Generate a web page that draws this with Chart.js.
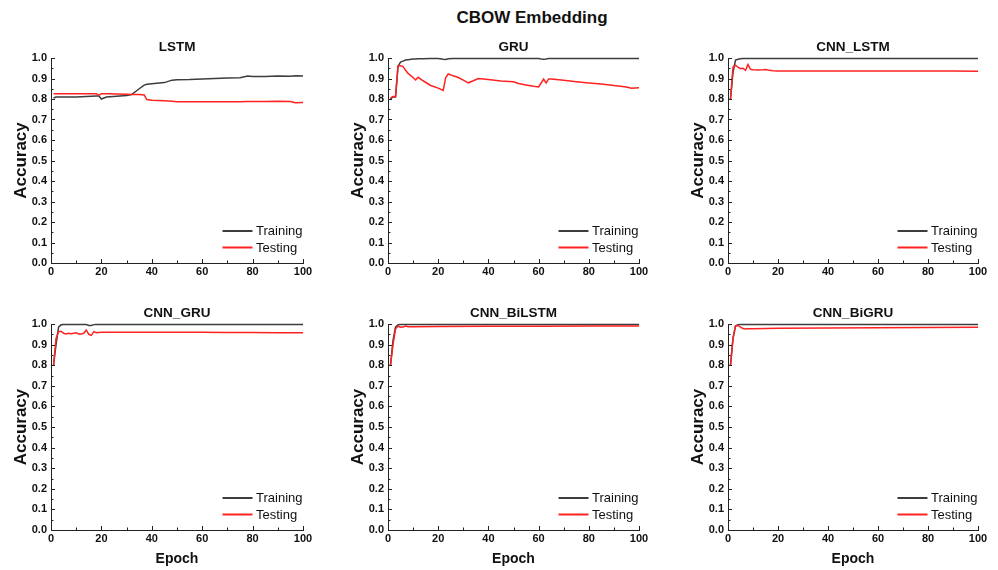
<!DOCTYPE html>
<html>
<head>
<meta charset="utf-8">
<title>CBOW Embedding</title>
<script src="https://cdn.jsdelivr.net/npm/chart.js@4.4.1/dist/chart.umd.min.js"></script>
<style>
    body { margin: 0; background: #fff; width: 998px; height: 570px; position: relative; overflow: hidden; font-family: "Liberation Sans", Arial, sans-serif; }
    #mainTitle { position: absolute; top: 8px; left: 432px; width: 200px; text-align: center; font-weight: bold; font-size: 17px; color: #111; white-space: nowrap; }
</style>
</head>
<body>
<div id="mainTitle">CBOW Embedding</div>

<script>
// values (epoch -> accuracy)
const lstmEpochs = [1, 2, 10, 18, 19, 20, 22, 30, 32, 35, 37, 38, 40, 45, 48, 50, 55, 60, 65, 70, 75, 78, 80, 85, 90, 95, 97, 100];
const lstmTrain  = [0.805, 0.81, 0.81, 0.815, 0.815, 0.80, 0.81, 0.817, 0.822, 0.85, 0.868, 0.872, 0.874, 0.88, 0.892, 0.894, 0.895, 0.898, 0.90, 0.902, 0.904, 0.912, 0.91, 0.91, 0.912, 0.911, 0.913, 0.912];
const lstmTest   = [0.826, 0.826, 0.826, 0.826, 0.818, 0.826, 0.826, 0.823, 0.822, 0.822, 0.82, 0.797, 0.794, 0.792, 0.789, 0.787, 0.786, 0.786, 0.787, 0.786, 0.787, 0.788, 0.788, 0.788, 0.789, 0.788, 0.782, 0.783];

const gruEpochs = [1, 2, 3, 4, 5, 6, 7, 8, 10, 11, 12, 14, 17, 20, 22, 23, 24, 26, 28, 30, 32, 34, 36, 40, 45, 50, 52, 55, 58, 60, 61, 62, 63, 64, 65, 70, 75, 80, 85, 90, 95, 97, 100];
const gruTrain  = [0.80, 0.81, 0.81, 0.96, 0.98, 0.985, 0.99, 0.992, 0.995, 0.995, 0.996, 0.996, 0.997, 0.997, 0.994, 0.993, 0.996, 0.997, 0.997, 0.997, 0.997, 0.997, 0.997, 0.997, 0.997, 0.997, 0.997, 0.997, 0.997, 0.997, 0.995, 0.994, 0.995, 0.997, 0.997, 0.997, 0.997, 0.997, 0.997, 0.997, 0.997, 0.997, 0.997];
const gruTest   = [0.805, 0.812, 0.812, 0.962, 0.962, 0.958, 0.94, 0.925, 0.905, 0.893, 0.906, 0.889, 0.866, 0.853, 0.842, 0.905, 0.922, 0.913, 0.905, 0.892, 0.879, 0.889, 0.90, 0.895, 0.888, 0.884, 0.876, 0.868, 0.862, 0.859, 0.878, 0.897, 0.879, 0.898, 0.897, 0.891, 0.884, 0.878, 0.873, 0.866, 0.858, 0.853, 0.855];

const cnnLstmEpochs = [1, 2, 3, 4, 5, 6, 7, 8, 9, 10, 12, 14, 15, 16, 18, 20, 30, 40, 50, 60, 70, 80, 90, 100];
const cnnLstmTrain  = [0.80, 0.93, 0.99, 0.994, 0.996, 0.997, 0.998, 0.998, 0.998, 0.998, 0.998, 0.998, 0.998, 0.998, 0.998, 0.998, 0.998, 0.998, 0.998, 0.998, 0.998, 0.998, 0.998, 0.998];
const cnnLstmTest   = [0.80, 0.955, 0.965, 0.955, 0.948, 0.95, 0.94, 0.968, 0.945, 0.943, 0.942, 0.943, 0.944, 0.941, 0.938, 0.937, 0.936, 0.936, 0.937, 0.937, 0.937, 0.936, 0.936, 0.935];

const cnnGruEpochs = [1, 2, 3, 4, 5, 6, 7, 8, 9, 10, 11, 12, 13, 14, 15, 16, 17, 18, 20, 30, 40, 50, 60, 70, 80, 90, 100];
const cnnGruTrain  = [0.80, 0.90, 0.985, 0.996, 0.997, 0.997, 0.997, 0.997, 0.997, 0.997, 0.997, 0.997, 0.997, 0.997, 0.993, 0.993, 0.997, 0.998, 0.998, 0.998, 0.998, 0.998, 0.998, 0.998, 0.998, 0.998, 0.998];
const cnnGruTest   = [0.80, 0.93, 0.963, 0.965, 0.955, 0.952, 0.955, 0.953, 0.955, 0.957, 0.952, 0.952, 0.955, 0.971, 0.95, 0.945, 0.963, 0.958, 0.96, 0.96, 0.96, 0.96, 0.96, 0.959, 0.959, 0.958, 0.958];

const cnnBiLstmEpochs = [1, 2, 3, 4, 5, 6, 7, 8, 10, 20, 40, 60, 80, 100];
const cnnBiLstmTrain  = [0.80, 0.92, 0.985, 0.997, 0.998, 0.998, 0.998, 0.998, 0.998, 0.998, 0.998, 0.998, 0.998, 0.998];
const cnnBiLstmTest   = [0.80, 0.90, 0.975, 0.99, 0.984, 0.985, 0.99, 0.987, 0.987, 0.988, 0.989, 0.989, 0.99, 0.99];

const cnnBiGruEpochs = [1, 2, 3, 4, 5, 6, 7, 8, 10, 20, 40, 60, 80, 100];
const cnnBiGruTrain  = [0.80, 0.93, 0.99, 0.997, 0.998, 0.998, 0.998, 0.998, 0.998, 0.998, 0.998, 0.998, 0.998, 0.998];
const cnnBiGruTest   = [0.80, 0.93, 0.99, 0.993, 0.985, 0.978, 0.976, 0.977, 0.977, 0.979, 0.981, 0.982, 0.983, 0.984];

const seriesNames = ['Training', 'Testing'];

const trainColour = '#3d3d3d';
const testColour = '#ff2222';
const axisColour = '#222222';
const textColour = '#111111';

Chart.defaults.font.family = '"Liberation Sans", Arial, sans-serif';

// plot rectangles in page pixels
const panels = [
    { title: 'LSTM',       L: 51,  T: 58,  R: 303, B: 263, padR: 20, epoch: false, epochs: lstmEpochs,      train: lstmTrain,      test: lstmTest },
    { title: 'GRU',        L: 388, T: 58,  R: 639, B: 263, padR: 20, epoch: false, epochs: gruEpochs,       train: gruTrain,       test: gruTest },
    { title: 'CNN_LSTM',   L: 728, T: 58,  R: 978, B: 263, padR: 19, epoch: false, epochs: cnnLstmEpochs,   train: cnnLstmTrain,   test: cnnLstmTest },
    { title: 'CNN_GRU',    L: 51,  T: 324, R: 303, B: 530, padR: 20, epoch: true,  epochs: cnnGruEpochs,    train: cnnGruTrain,    test: cnnGruTest },
    { title: 'CNN_BiLSTM', L: 388, T: 324, R: 639, B: 530, padR: 20, epoch: true,  epochs: cnnBiLstmEpochs, train: cnnBiLstmTrain, test: cnnBiLstmTest },
    { title: 'CNN_BiGRU',  L: 728, T: 324, R: 978, B: 530, padR: 19, epoch: true,  epochs: cnnBiGruEpochs,  train: cnnBiGruTrain,  test: cnnBiGruTest }
];

// inward major/minor ticks, panel title and the little legend
const panelDecor = {
    id: 'panelDecor',
    afterDraw(chart, args, opts) {
        const ctx = chart.ctx;
        const area = chart.chartArea;
        const xs = chart.scales.x;
        const ys = chart.scales.y;

        ctx.save();
        ctx.strokeStyle = axisColour;
        ctx.lineWidth = 1;
        ctx.beginPath();
        for (let v = 0; v <= 100; v += 10) {
            const px = Math.round(xs.getPixelForValue(v)) + 0.5;
            const len = v % 20 === 0 ? 4 : 2.5;
            ctx.moveTo(px, area.bottom);
            ctx.lineTo(px, area.bottom - len);
        }
        for (let i = 0; i <= 20; i++) {
            const py = Math.round(ys.getPixelForValue(i * 0.05)) + 0.5;
            const len = i % 2 === 0 ? 4 : 2.5;
            ctx.moveTo(area.left, py);
            ctx.lineTo(area.left + len, py);
        }
        ctx.stroke();

        ctx.fillStyle = textColour;
        ctx.font = 'bold 13.5px "Liberation Sans", Arial, sans-serif';
        ctx.textAlign = 'center';
        ctx.textBaseline = 'middle';
        ctx.fillText(opts.title, (area.left + area.right) / 2, area.top - 11);

        const rows = [area.bottom - 32, area.bottom - 15.5];
        ctx.font = '13px "Liberation Sans", Arial, sans-serif';
        ctx.textAlign = 'left';
        chart.data.datasets.forEach((ds, i) => {
            ctx.strokeStyle = ds.borderColor;
            ctx.lineWidth = 2;
            ctx.beginPath();
            ctx.moveTo(area.right - 80.5, rows[i]);
            ctx.lineTo(area.right - 50.5, rows[i]);
            ctx.stroke();
            ctx.fillStyle = textColour;
            ctx.fillText(ds.label, area.right - 47, rows[i] + 0.5);
        });
        ctx.restore();
    }
};

function toPoints(xs, ys) {
    return xs.map((x, i) => ({ x: x, y: ys[i] }));
}

function buildPanel(p) {
    const xH = p.epoch ? 40 : 28;
    const left = p.L - 51;
    const top = p.T - 30;
    const width = (p.R - p.L) + 51 + p.padR;
    const height = (p.B - p.T) + 30 + xH;

    const canvas = document.createElement('canvas');
    canvas.width = width;
    canvas.height = height;
    canvas.style.cssText = `position:absolute;left:${left}px;top:${top}px;width:${width}px;height:${height}px`;
    document.body.appendChild(canvas);

    new Chart(canvas, {
        type: 'line',
        data: {
            datasets: [
                { label: seriesNames[0], data: toPoints(p.epochs, p.train), borderColor: trainColour, borderWidth: 1.5, pointRadius: 0, tension: 0, order: 2, clip: false },
                { label: seriesNames[1], data: toPoints(p.epochs, p.test), borderColor: testColour, borderWidth: 1.5, pointRadius: 0, tension: 0, order: 1, clip: false }
            ]
        },
        options: {
            responsive: false,
            animation: false,
            devicePixelRatio: 1,
            events: [],
            layout: { padding: { left: 0, top: 30, right: p.padR, bottom: 0 } },
            plugins: {
                legend: { display: false },
                tooltip: { enabled: false },
                panelDecor: { title: p.title }
            },
            scales: {
                x: {
                    type: 'linear',
                    min: 0,
                    max: 100,
                    afterFit: s => { s.height = xH; },
                    grid: { drawOnChartArea: false, drawTicks: false },
                    border: { color: axisColour, width: 1 },
                    ticks: { stepSize: 20, padding: 2, color: textColour, autoSkip: false, maxRotation: 0, font: { size: 11, weight: 'bold' } },
                    title: { display: p.epoch, text: 'Epoch', color: textColour, font: { size: 14, weight: 'bold' }, padding: { top: 0, bottom: 2 } }
                },
                y: {
                    type: 'linear',
                    min: 0,
                    max: 1,
                    afterFit: s => { s.width = 51; },
                    grid: { drawOnChartArea: false, drawTicks: false },
                    border: { color: axisColour, width: 1 },
                    ticks: { stepSize: 0.1, padding: 4, color: textColour, autoSkip: false, font: { size: 11, weight: 'bold' }, callback: v => Number(v).toFixed(1) },
                    title: { display: true, text: 'Accuracy', color: textColour, font: { size: 17, weight: 'bold' }, padding: { top: 11, bottom: 0 } }
                }
            }
        },
        plugins: [panelDecor]
    });
}

panels.forEach(buildPanel);
</script>
</body>
</html>
